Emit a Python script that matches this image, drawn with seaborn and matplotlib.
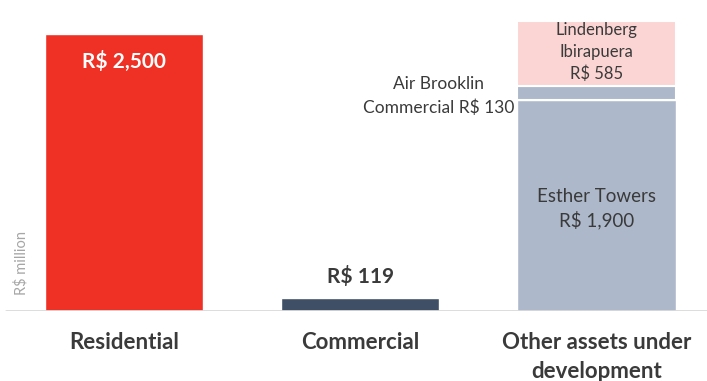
import matplotlib
matplotlib.use("Agg")
import matplotlib.pyplot as plt
import seaborn as sns
import pandas as pd

categories = ["Residential", "Commercial", "Other assets under\ndevelopment"]
base_values = [2500, 119, 1900]
base_colors = ["#EE3124", "#3F4F66", "#ADB9CA"]
stack_names = ["Air Brooklin\nCommercial R$ 130", "Lindenberg\nIbirapuera\nR$ 585"]
stack_values = [130, 585]
stack_colors = ["#ADB9CA", "#FBD5D3"]
base_labels = ["R$ 2,500", "R$ 119", "Esther Towers\nR$ 1,900"]

sns.set_theme(style="white")
plt.rcParams["font.family"] = ["Lato", "DejaVu Sans"]

W, H = 707, 381
fig = plt.figure(figsize=(W / 100, H / 100), dpi=100)
base_px = 70
ax = fig.add_axes([0, base_px / H, 1, (H - base_px) / H])

df = pd.DataFrame({"cat": categories, "val": base_values})
sns.barplot(data=df, x="cat", y="val", hue="cat", palette=base_colors,
            width=0.67, legend=False, ax=ax, saturation=1)

bottom = base_values[2]
for v, c in zip(stack_values, stack_colors):
    ax.bar(2, v, bottom=bottom, width=0.67, color=c, edgecolor="white", linewidth=1.5)
    bottom += v

px_per_unit = 236.25
ax.set_xlim(-124 / px_per_unit, (W - 124) / px_per_unit)
ax.set_ylim(0, 2807)
for s in ax.spines.values():
    s.set_visible(False)
ax.set_xticks([])
ax.set_yticks([])
ax.set_xlabel("")
ax.set_ylabel("")
ax.axhline(0, xmin=6 / W, xmax=1, color="#D9D9D9", lw=2, zorder=5)

dark = "#3A3A3A"
u = 0.1108  # px per data unit, for placing labels


def y_of(px):
    return (311 - px) / u


ax.text(0, y_of(61), base_labels[0], ha="center", va="center", color="white",
        fontsize=15, fontweight="bold")
ax.text(1, y_of(276), base_labels[1], ha="center", va="center", color=dark,
        fontsize=15, fontweight="bold")
ax.text(2, y_of(209), base_labels[2], ha="center", va="center", color=dark,
        fontsize=13.5, linespacing=1.36)
ax.text(2, y_of(52), stack_names[1], ha="center", va="center", color=dark,
        fontsize=12, linespacing=1.45)
ax.text(1.33, y_of(96), stack_names[0], ha="center", va="center", color=dark,
        fontsize=12.5, linespacing=1.5)

for i, c in enumerate(categories):
    fig.text((124 + i * px_per_unit) / W, 1 - 332 / H, c, ha="center", va="top",
             color=dark, fontsize=16, fontweight="bold", linespacing=1.5)

fig.text(21 / W, 1 - 263 / H, "R$ million", rotation=90, ha="center", va="center",
         color="#A6A6A6", fontsize=10.5)

fig.savefig("out.png", dpi=100)
